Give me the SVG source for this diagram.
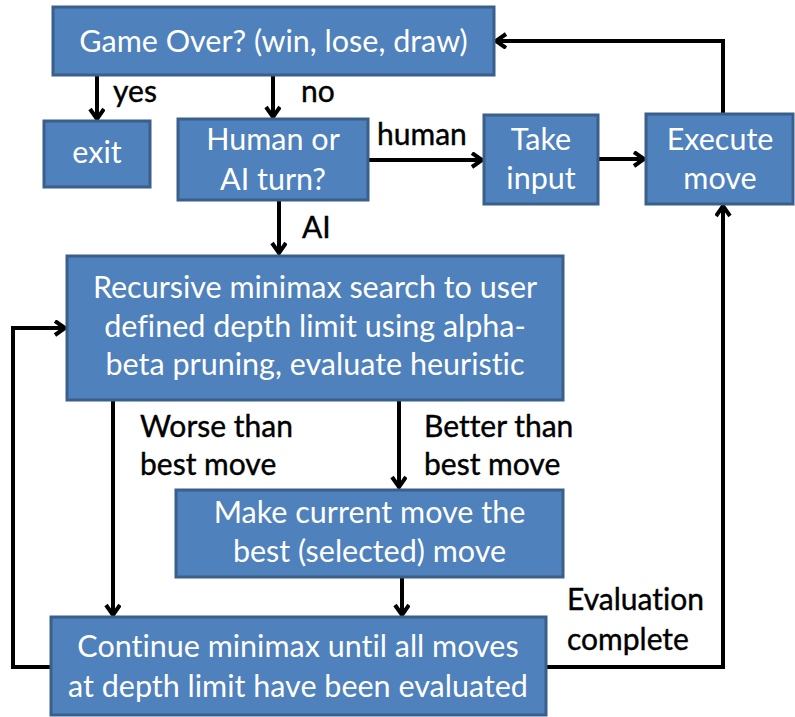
<svg xmlns="http://www.w3.org/2000/svg" width="795" height="717" viewBox="0 0 795 717">
  <style>
    .box { fill: #4F81BD; stroke: #3A5F8B; stroke-width: 3; }
    .bt { fill: #FFFFFF; font-family: Lato, "Open Sans", sans-serif; font-size: 30.5px; text-anchor: middle; font-variant-ligatures: none; }
    .lbl { fill: #000000; font-family: Lato, "Open Sans", sans-serif; font-size: 30px; stroke: #000; stroke-width: 0.4; font-variant-ligatures: none; }
    .wire { fill: none; stroke: #000; stroke-width: 4; stroke-linejoin: miter; }
  </style>
  <defs>
    <marker id="arrow" markerUnits="userSpaceOnUse" markerWidth="20" markerHeight="20" refX="12" refY="8" orient="auto">
      <path d="M2,1 L12,8 L2,15" fill="none" stroke="#000" stroke-width="4"/>
    </marker>
  </defs>

  <g id="connectors">
    <path class="wire" d="M97,75 V119" marker-end="url(#arrow)"/>
    <path class="wire" d="M273,75 V117" marker-end="url(#arrow)"/>
    <path class="wire" d="M368,160 H482" marker-end="url(#arrow)"/>
    <path class="wire" d="M598,159 H644" marker-end="url(#arrow)"/>
    <path class="wire" d="M723,113 V41 H496" marker-end="url(#arrow)"/>
    <path class="wire" d="M279,200 V253" marker-end="url(#arrow)"/>
    <path class="wire" d="M113,400 V615" marker-end="url(#arrow)"/>
    <path class="wire" d="M399,400 V487" marker-end="url(#arrow)"/>
    <path class="wire" d="M402,577 V615" marker-end="url(#arrow)"/>
    <path class="wire" d="M50,667 H13 V328 H65" marker-end="url(#arrow)"/>
    <path class="wire" d="M546,667 H723 V206" marker-end="url(#arrow)"/>

    <text class="lbl" x="113" y="102">yes</text>
    <text class="lbl" x="301" y="102">no</text>
    <text class="lbl" x="377" y="145">human</text>
    <text class="lbl" x="302" y="238">AI</text>
    <text class="lbl" x="140" y="437">Worse than</text>
    <text class="lbl" x="140" y="475">best move</text>
    <text class="lbl" x="424" y="437">Better than</text>
    <text class="lbl" x="424" y="475">best move</text>
    <text class="lbl" x="567" y="610">Evaluation</text>
    <text class="lbl" x="567" y="650">complete</text>
  </g>

  <g id="game-over">
    <rect class="box" x="53" y="7" width="441" height="68"/>
    <text class="bt" x="273.5" y="52">Game Over? (win, lose, draw)</text>
  </g>
  <g id="exit">
    <rect class="box" x="44" y="121" width="106" height="66"/>
    <text class="bt" x="97" y="163">exit</text>
  </g>
  <g id="turn">
    <rect class="box" x="178" y="119" width="190" height="81"/>
    <text class="bt" x="273" y="150">Human or</text>
    <text class="bt" x="273" y="190">AI turn?</text>
  </g>
  <g id="take-input">
    <rect class="box" x="484" y="115" width="114" height="89"/>
    <text class="bt" x="541" y="150">Take</text>
    <text class="bt" x="541" y="189">input</text>
  </g>
  <g id="execute-move">
    <rect class="box" x="646" y="114" width="147" height="90"/>
    <text class="bt" x="720" y="150">Execute</text>
    <text class="bt" x="720" y="189">move</text>
  </g>
  <g id="search">
    <rect class="box" x="67" y="256" width="496" height="144"/>
    <text class="bt" x="315" y="298">Recursive minimax search to user</text>
    <text class="bt" x="315" y="337">defined depth limit using alpha-</text>
    <text class="bt" x="315" y="375">beta pruning, evaluate heuristic</text>
  </g>
  <g id="make-best">
    <rect class="box" x="176" y="490" width="387" height="87"/>
    <text class="bt" x="369.5" y="523">Make current move the</text>
    <text class="bt" x="369.5" y="562">best (selected) move</text>
  </g>
  <g id="continue">
    <rect class="box" x="51" y="617" width="495" height="98"/>
    <text class="bt" x="298" y="657">Continue minimax until all moves</text>
    <text class="bt" x="298" y="697">at depth limit have been evaluated</text>
  </g>
</svg>
